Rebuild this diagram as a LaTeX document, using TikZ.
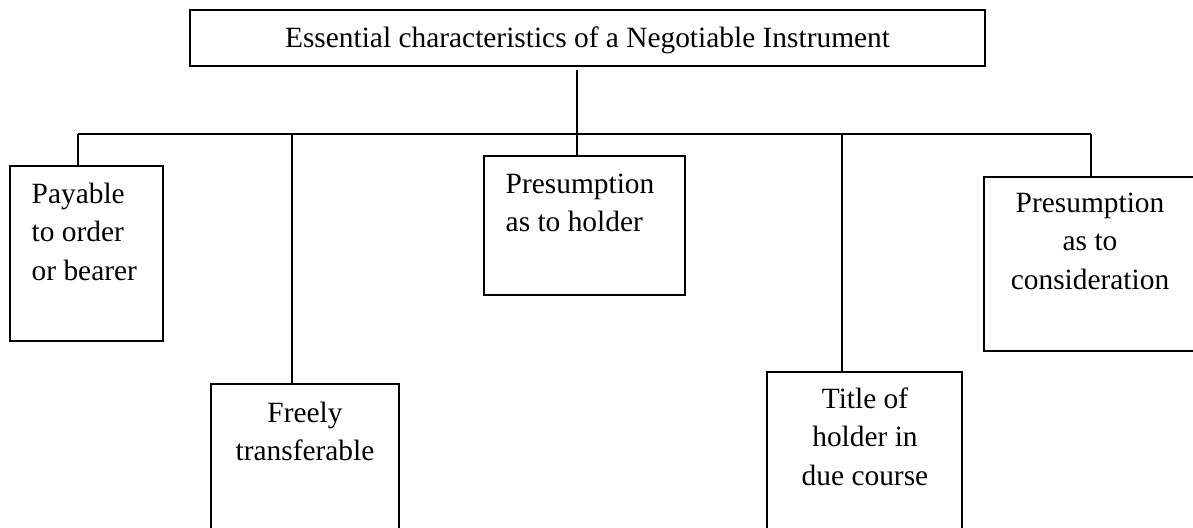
\documentclass[tikz,border=0pt]{standalone}
\usepackage{fontspec}
\setmainfont{Liberation Serif}
\begin{document}
\begin{tikzpicture}[x=1pt,y=-1pt,
  line width=1.4pt,
  box/.style={draw, rectangle, inner sep=0pt},
  lbl/.style={inner sep=0pt, font=\fontsize{29.4}{38.5}\selectfont},
]
\useasboundingbox (0,0) rectangle (1193,527);
\clip (0,0) rectangle (1193,527);

% boxes
\node[box, minimum width=795pt, minimum height=56pt] (title) at (587.5,38) {};
\node[box, minimum width=153pt, minimum height=175pt] (b1) at (86.5,253.5) {};
\node[box, minimum width=188pt, minimum height=176pt] (b2) at (305,472) {};
\node[box, minimum width=201pt, minimum height=139pt] (b3) at (584.5,225.5) {};
\node[box, minimum width=195pt, minimum height=188pt] (b4) at (864.5,466) {};
\node[box, minimum width=220pt, minimum height=174pt] (b5) at (1094,264) {};

% texts
\node[lbl, anchor=base] (ttitle) at (587.5,48)
  {Essential characteristics of a Negotiable Instrument};
\node[lbl, anchor=base west] (t1) at (31,203)
  {\parbox[t]{130pt}{\raggedright Payable\\to order\\or bearer}};
\node[lbl, anchor=base] (t2) at (305,422)
  {\parbox[t]{180pt}{\centering Freely\\transferable}};
\node[lbl, anchor=base west] (t3) at (505,193)
  {\parbox[t]{175pt}{\raggedright Presumption\\as to holder}};
\node[lbl, anchor=base] (t4) at (865,408)
  {\parbox[t]{180pt}{\centering Title of\\holder in\\due course}};
\node[lbl, anchor=base] (t5) at (1090,212)
  {\parbox[t]{200pt}{\centering Presumption\\as to\\consideration}};

% tree connectors
\coordinate (stem) at (577,70);
\coordinate (j1) at (78,134);
\coordinate (j2) at (292,134);
\coordinate (j3) at (577,134);
\coordinate (j4) at (842,134);
\coordinate (j5) at (1091,134);

\draw (stem) -- (j3);
\draw (j1) -- (j5);
\draw (j1) -- (j1 |- b1.north);
\draw (j2) -- (j2 |- b2.north);
\draw (j3) -- (j3 |- b3.north);
\draw (j4) -- (j4 |- b4.north);
\draw (j5) -- (j5 |- b5.north);
\end{tikzpicture}
\end{document}
